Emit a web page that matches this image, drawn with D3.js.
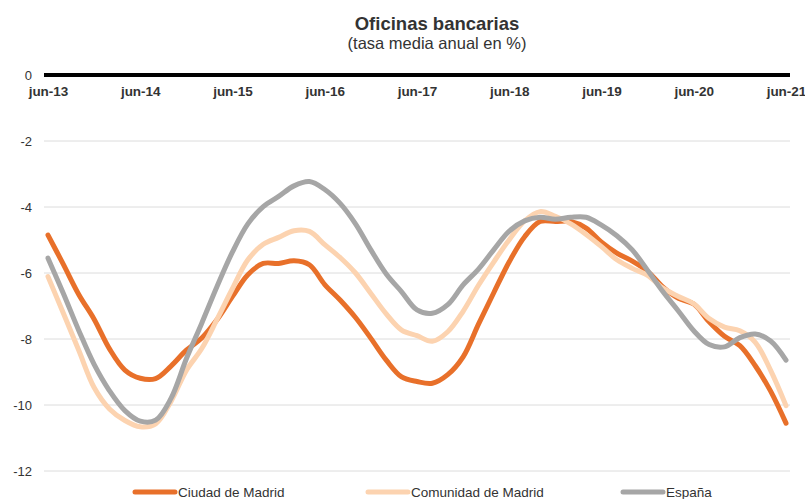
<!DOCTYPE html>
<html><head><meta charset="utf-8">
<script src="https://cdn.jsdelivr.net/npm/d3@7"></script>
<style>body{margin:0;background:#fff;}svg{display:block;font-family:"Liberation Sans",Arial,Helvetica,sans-serif;}</style>
</head><body>
<svg id="c" width="805" height="499"></svg>
<script>
// months since jun-13, every 2 months
const months = d3.range(0, 97, 2);
const tickMonths = [0,12,24,36,48,60,72,84,96];
const tickLabels = ["jun-13","jun-14","jun-15","jun-16","jun-17","jun-18","jun-19","jun-20","jun-21"];
const yTicks = [0,-2,-4,-6,-8,-10,-12];
const seriesNames = ["Ciudad de Madrid","Comunidad de Madrid","España"];
const ciudad = [-4.85,-5.74,-6.65,-7.40,-8.30,-8.94,-9.19,-9.20,-8.82,-8.34,-7.97,-7.41,-6.71,-6.05,-5.71,-5.71,-5.63,-5.75,-6.35,-6.82,-7.35,-7.98,-8.64,-9.15,-9.29,-9.34,-9.08,-8.54,-7.55,-6.59,-5.66,-4.90,-4.44,-4.44,-4.44,-4.64,-5.07,-5.40,-5.64,-5.95,-6.43,-6.77,-6.94,-7.48,-7.92,-8.20,-8.81,-9.58,-10.55];
const comunidad = [-6.11,-7.22,-8.34,-9.47,-10.12,-10.47,-10.66,-10.57,-9.89,-8.95,-8.29,-7.40,-6.47,-5.60,-5.13,-4.92,-4.72,-4.74,-5.14,-5.53,-6.00,-6.62,-7.24,-7.73,-7.90,-8.07,-7.78,-7.16,-6.37,-5.66,-4.99,-4.42,-4.14,-4.28,-4.51,-4.83,-5.20,-5.60,-5.86,-6.07,-6.46,-6.71,-6.93,-7.38,-7.64,-7.75,-8.10,-8.95,-10.02];
const espana = [-5.55,-6.62,-7.74,-8.77,-9.57,-10.17,-10.49,-10.46,-9.80,-8.60,-7.52,-6.40,-5.36,-4.51,-3.99,-3.68,-3.36,-3.23,-3.47,-3.89,-4.51,-5.30,-6.03,-6.57,-7.12,-7.22,-6.96,-6.36,-5.88,-5.29,-4.73,-4.42,-4.31,-4.37,-4.31,-4.31,-4.55,-4.87,-5.30,-5.92,-6.57,-7.15,-7.75,-8.17,-8.24,-7.96,-7.85,-8.06,-8.64];
const colors = ["#E8702A","#FCD3B0","#A6A6A6"];

const svg = d3.select("#c");
const x = d3.scaleLinear().domain([0,96]).range([48,786]);
const y = d3.scaleLinear().domain([0,-12]).range([75,471]);

// title
svg.append("text").attr("x",437).attr("y",30).attr("text-anchor","middle")
  .attr("font-size",18.5).attr("font-weight","bold").attr("fill","#333").text("Oficinas bancarias");
svg.append("text").attr("x",437).attr("y",49).attr("text-anchor","middle")
  .attr("font-size",16.5).attr("fill","#333").text("(tasa media anual en %)");

// gridlines
svg.append("g").selectAll("line").data(yTicks.filter(d=>d!==0)).join("line")
  .attr("x1",44).attr("x2",790).attr("y1",d=>y(d)).attr("y2",d=>y(d))
  .attr("stroke","#DCDCDC").attr("stroke-width",1);

// y axis labels
const yAxis = d3.axisLeft(y).tickValues(yTicks).tickSize(0).tickPadding(0).tickFormat(d=>String(d));
const gy = svg.append("g").attr("transform","translate(32,0)").call(yAxis);
gy.select(".domain").remove();
gy.selectAll("text").attr("font-size",13).attr("fill","#333").attr("font-family","Liberation Sans, Arial, sans-serif");

// series lines
const line = d3.line().x((d,i)=>x(months[i])).y(d=>y(d)).curve(d3.curveCatmullRom.alpha(0.5));
const all = [ciudad, comunidad, espana];
[0,1,2].forEach(k=>{
  svg.append("path").datum(all[k]).attr("d",line).attr("fill","none")
    .attr("stroke",colors[k]).attr("stroke-width",5).attr("stroke-linecap","round").attr("stroke-linejoin","round");
});

// zero line
svg.append("line").attr("x1",44).attr("x2",790).attr("y1",y(0)).attr("y2",y(0))
  .attr("stroke","#000").attr("stroke-width",4);

// x axis labels
const xAxis = d3.axisBottom(x).tickValues(tickMonths).tickSize(0).tickPadding(0)
  .tickFormat((d,i)=>tickLabels[i]);
const gx = svg.append("g").attr("transform","translate(0,86)").call(xAxis);
gx.select(".domain").remove();
gx.selectAll("text").attr("font-size",13.5).attr("font-weight","bold").attr("fill","#333")
  .attr("font-family","Liberation Sans, Arial, sans-serif");

// legend
const legX = [135,368,623];
const leg = svg.append("g").selectAll("g").data(seriesNames).join("g")
  .attr("transform",(d,i)=>`translate(${legX[i]},492)`);
leg.append("line").attr("x1",0).attr("x2",40).attr("y1",0).attr("y2",0)
  .attr("stroke",(d,i)=>colors[i]).attr("stroke-width",5).attr("stroke-linecap","round");
leg.append("text").attr("x",43).attr("y",5).attr("font-size",13.5).attr("fill","#333").text(d=>d);
</script>
</body></html>
